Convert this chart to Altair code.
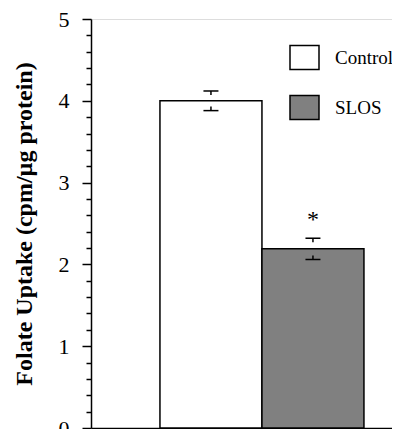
import altair as alt
import pandas as pd

groups = ["Control", "SLOS"]
positions = [1, 2]
means = [4.0, 2.19]
errors = [0.12, 0.13]
marks = ["", "*"]

y_ticks = [0, 0.2, 0.4, 0.6, 0.8, 1, 1.2, 1.4, 1.6, 1.8, 2, 2.2, 2.4, 2.6, 2.8,
           3, 3.2, 3.4, 3.6, 3.8, 4, 4.2, 4.4, 4.6, 4.8, 5]

SERIF = "Liberation Serif"

df = pd.DataFrame({"group": groups, "pos": positions, "mean": means,
                   "err": errors, "sig": marks})

base = alt.Chart(df).transform_calculate(
    x0="datum.pos - 0.5",
    x1="datum.pos + 0.5",
    zero="0",
    hi="datum.mean + datum.err",
    lo="datum.mean - datum.err",
    hi_s="datum.mean + datum.err - 0.05",
    lo_s="datum.mean - datum.err + 0.05",
)

xscale = alt.Scale(domain=[-0.176, 2.775], nice=False, zero=False)
yscale = alt.Scale(domain=[0, 5], nice=False)

major = "abs(datum.value - round(datum.value)) < 0.001"

yaxis = alt.Axis(
    values=y_ticks,
    title="Folate Uptake (cpm/µg protein)",
    titleFont=SERIF, titleFontSize=24, titleFontWeight="bold", titleColor="black",
    titlePadding=22,
    labelFont=SERIF, labelFontSize=22, labelColor="black", labelPadding=13,
    labelExpr=f"{major} ? format(datum.value, 'd') : ''", labelOverlap=False,
    labelFlush=False,
    tickSize={"condition": {"test": major, "value": 9}, "value": 5},
    tickColor="black", tickWidth=1.5,
    domainColor="black", domainWidth=1.5, grid=False,
)
xaxis = alt.Axis(title=None, labels=False, ticks=False, grid=False,
                 domainColor="black", domainWidth=1.5)

bars = base.mark_rect(stroke="black", strokeWidth=1.5).encode(
    x=alt.X("x0:Q", scale=xscale, axis=xaxis),
    x2="x1:Q",
    y=alt.Y("mean:Q", scale=yscale, axis=yaxis),
    y2="zero:Q",
    fill=alt.Fill("group:N",
                  scale=alt.Scale(domain=groups, range=["white", "#808080"]),
                  legend=alt.Legend(
                      title=None, orient="none", legendX=198, legendY=23,
                      padding=0, offset=0,
                      symbolType="M-1,-0.83H1V0.83H-1Z", symbolSize=841,
                      symbolStrokeColor="black", symbolStrokeWidth=1.5,
                      symbolOpacity=1,
                      labelFont=SERIF, labelFontSize=19, labelColor="black",
                      labelOffset=15, rowPadding=19,
                  )),
)

px = alt.X("pos:Q", scale=xscale, axis=xaxis)

caps_hi = base.mark_tick(orient="horizontal", size=15, thickness=1.5,
                         color="black", opacity=1).encode(
    x=px, y=alt.Y("hi:Q", scale=yscale, axis=yaxis))
caps_lo = base.mark_tick(orient="horizontal", size=15, thickness=1.5,
                         color="black", opacity=1).encode(
    x=px, y=alt.Y("lo:Q", scale=yscale, axis=yaxis))
stem_hi = base.mark_rule(color="black", strokeWidth=1.5).encode(
    x=px, y=alt.Y("hi:Q", scale=yscale, axis=yaxis), y2="hi_s:Q")
stem_lo = base.mark_rule(color="black", strokeWidth=1.5).encode(
    x=px, y=alt.Y("lo:Q", scale=yscale, axis=yaxis), y2="lo_s:Q")

star = base.mark_text(font=SERIF, fontSize=24, color="black", dy=-18,
                      baseline="middle").encode(
    x=px, y=alt.Y("hi:Q", scale=yscale, axis=yaxis), text="sig:N")

chart = alt.layer(bars, stem_hi, stem_lo, caps_hi, caps_lo, star).properties(
    width=301, height=409,
    autosize=alt.AutoSizeParams(type="none"),
    padding={"left": 83, "top": 11, "right": 0, "bottom": 1},
).configure_view(strokeWidth=0).configure(background="white")

chart.save("out.html", embed_options={"renderer": "svg", "actions": False})
